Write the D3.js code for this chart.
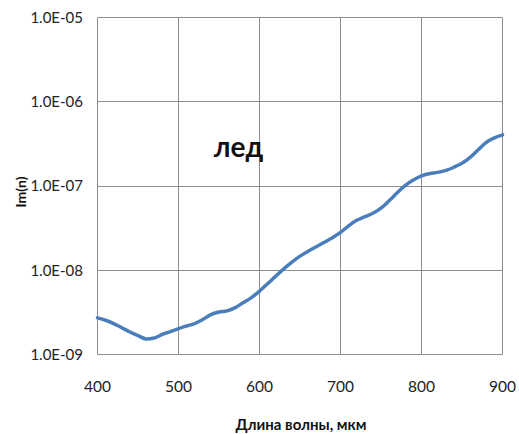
<!DOCTYPE html>
<html><head><meta charset="utf-8">
<script src="https://cdn.jsdelivr.net/npm/d3@7"></script>
<style>
body{margin:0;background:#fff;}
svg{display:block;font-family:Lato,"Open Sans",sans-serif;}
</style></head>
<body>
<svg id="c" width="519" height="434"></svg>
<script>
const wavelengths = [400,410,420,430,440,450,460,470,480,490,500,510,520,530,540,550,560,570,580,590,600,610,620,630,640,650,660,670,680,690,700,710,720,730,740,750,760,770,780,790,800,810,820,830,840,850,860,870,880,890,900];
const imN = [2.72e-9,2.55e-9,2.33e-9,2.08e-9,1.85e-9,1.68e-9,1.53e-9,1.57e-9,1.73e-9,1.87e-9,2.03e-9,2.18e-9,2.33e-9,2.6e-9,2.98e-9,3.19e-9,3.3e-9,3.6e-9,4.13e-9,4.73e-9,5.65e-9,6.93e-9,8.51e-9,1.04e-8,1.25e-8,1.47e-8,1.68e-8,1.9e-8,2.15e-8,2.43e-8,2.81e-8,3.37e-8,3.92e-8,4.32e-8,4.75e-8,5.45e-8,6.68e-8,8.3e-8,1.02e-7,1.18e-7,1.32e-7,1.4e-7,1.45e-7,1.53e-7,1.67e-7,1.86e-7,2.19e-7,2.69e-7,3.3e-7,3.73e-7,4.05e-7];
const xTicks = [400,500,600,700,800,900];
const yTicks = [1e-9,1e-8,1e-7,1e-6,1e-5];
const yTickLabels = ["1.0E-09","1.0E-08","1.0E-07","1.0E-06","1.0E-05"];
const xTitle = "Длина волны, мкм";
const yTitle = "Im(n)";
const annotation = "лед";

const svg = d3.select("#c");
const x = d3.scaleLinear().domain([400,900]).range([97.5,502.5]);
const y = d3.scaleLog().domain([1e-9,1e-5]).range([354.5,17.5]);
const snap = v => Math.floor(v)+0.5;
const grid = "#8e8e8e";

const g = svg.append("g");
g.selectAll(".hg").data(yTicks).enter().append("line")
  .attr("x1",x(400)).attr("x2",x(900))
  .attr("y1",d=>snap(y(d))).attr("y2",d=>snap(y(d)))
  .attr("stroke",grid).attr("stroke-width",1);
g.selectAll(".vg").data(xTicks).enter().append("line")
  .attr("y1",snap(y(1e-5))).attr("y2",snap(y(1e-9)))
  .attr("x1",d=>snap(x(d))).attr("x2",d=>snap(x(d)))
  .attr("stroke",grid).attr("stroke-width",1);

// tick labels
g.selectAll(".yl").data(yTicks).enter().append("text")
  .attr("x",83).attr("y",d=>y(d)).attr("dy","0.35em")
  .attr("text-anchor","end").attr("font-size",15).attr("fill","#222")
  .text((d,i)=>yTickLabels[i]);
g.selectAll(".xl").data(xTicks).enter().append("text")
  .attr("x",d=>x(d)).attr("y",392)
  .attr("text-anchor","middle").attr("font-size",15.5).attr("fill","#222")
  .text(d=>d);

// line
const line = d3.line().x((d,i)=>x(wavelengths[i])).y(d=>y(d)).curve(d3.curveMonotoneX);
svg.append("path").datum(imN).attr("d",line)
  .attr("fill","none").attr("stroke","#4a7ebb").attr("stroke-width",3.5)
  .attr("stroke-linejoin","round").attr("stroke-linecap","round");

// titles
svg.append("text").attr("x",301).attr("y",430).attr("text-anchor","middle")
  .attr("font-size",15).attr("font-weight","bold").attr("fill","#111").text(xTitle);
svg.append("text").attr("transform","translate(26,192) rotate(-90)").attr("text-anchor","middle")
  .attr("font-size",14).attr("font-weight","bold").attr("fill","#111").text(yTitle);
svg.append("text").attr("x",x(500)+60).attr("y",157).attr("text-anchor","middle")
  .attr("font-size",28).attr("font-weight","bold").attr("fill","#111").text(annotation);
</script>
</body></html>
